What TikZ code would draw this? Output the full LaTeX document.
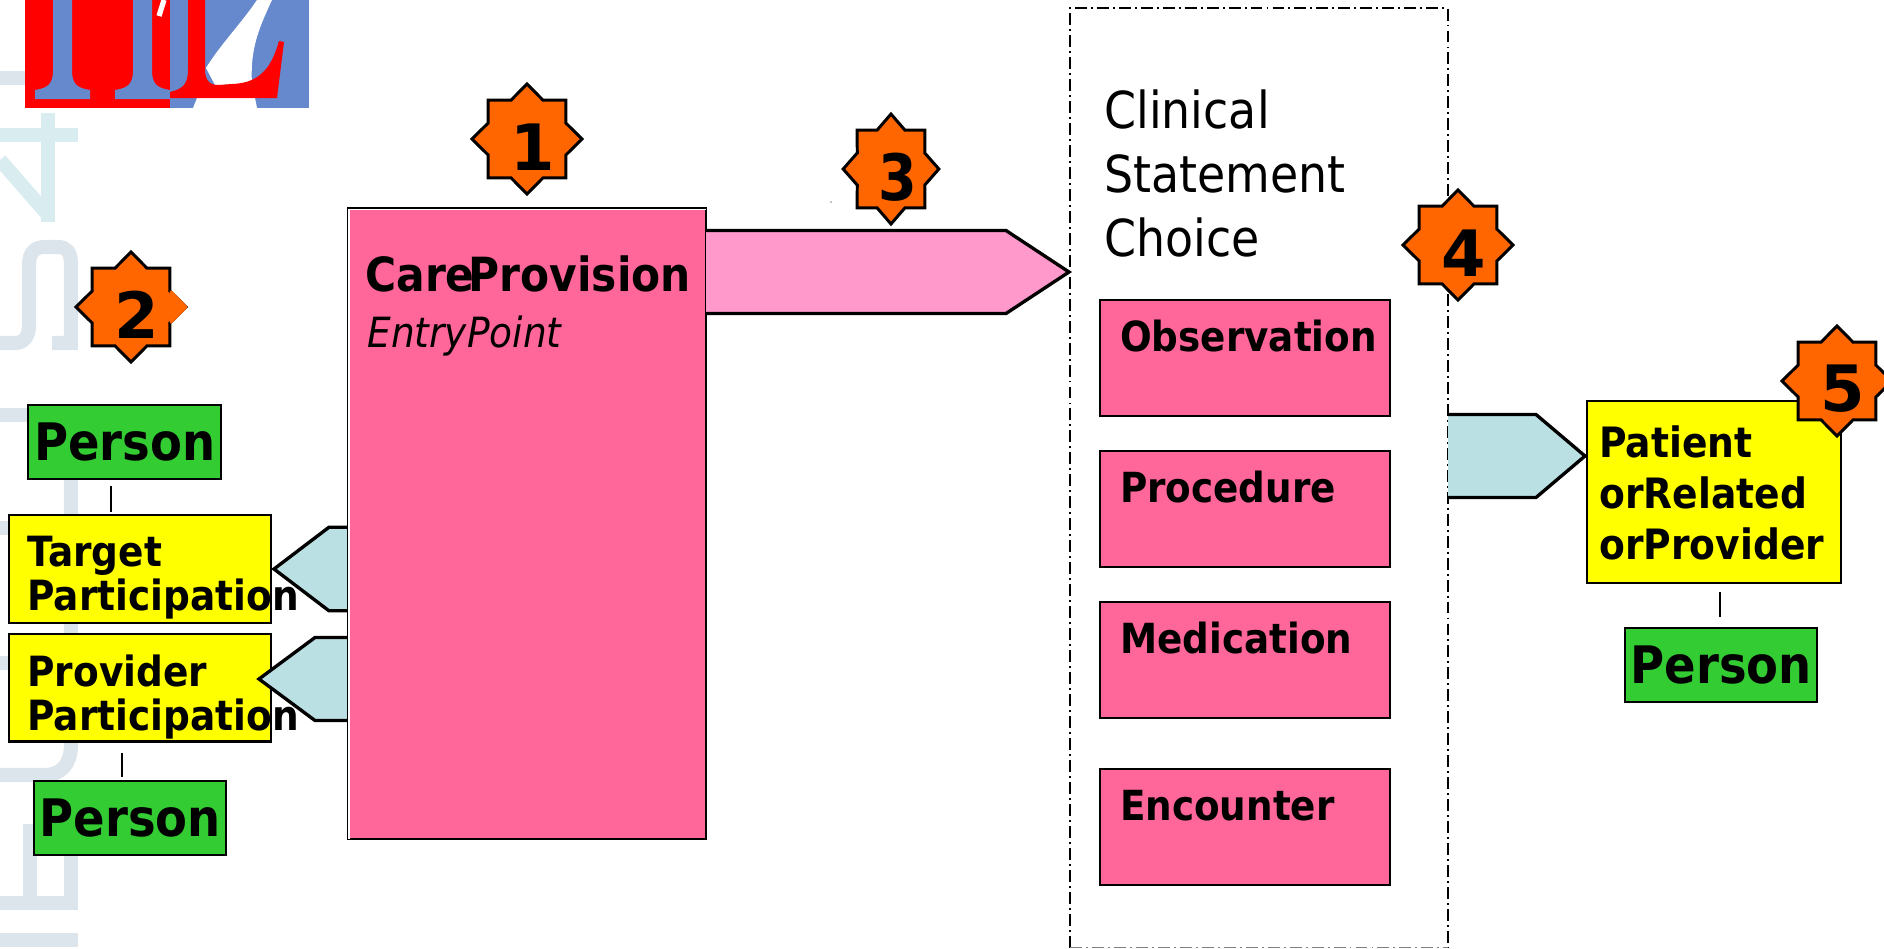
\documentclass[tikz,border=0pt]{standalone}
\usepackage{fontspec}
\setmainfont{DejaVu Sans}[FakeStretch=0.9]
\newfontfamily\digitfont{DejaVu Sans}
\usetikzlibrary{shapes.geometric, positioning, calc}
\definecolor{hotpink}{HTML}{FF6699}
\definecolor{softpink}{HTML}{FF99CC}
\definecolor{paleteal}{HTML}{BBE0E3}
\definecolor{grassgreen}{HTML}{33CC33}
\definecolor{pureyellow}{HTML}{FFFF00}
\definecolor{badgeorange}{HTML}{FF6600}
\definecolor{logoblue}{HTML}{6688CC}
\definecolor{markA}{HTML}{D9EDF0}
\definecolor{markB}{HTML}{DCE5EC}
\tikzset{
	plainbox/.style={rectangle, draw, line width=1.3pt, inner sep=0pt, anchor=north west},
	personbox/.style={plainbox, fill=grassgreen, font=\fontsize{29.4}{31}\bfseries\selectfont},
	yellowbox/.style={plainbox, fill=pureyellow},
	stmtbox/.style={plainbox, fill=hotpink, minimum width=5.8cm, minimum height=2.32cm, text width=5cm,
		inner xsep=0.4cm, text height=1.02cm, text depth=1.3cm, align=left, font=\fontsize{23.6}{26}\bfseries\selectfont},
	badge/.style={star, star points=8, star point ratio=1.31, minimum size=2.2cm, inner sep=0pt, draw, line width=1.7pt, fill=badgeorange},
	digit/.style={font=\fontsize{36.4}{38}\digitfont\bfseries\selectfont, inner sep=0pt},
	caption/.style={anchor=base west, inner sep=0pt, align=left},
	tie/.style={line width=1.2pt},
	tagline/.style={line width=1.9pt, line join=miter},
	choiceline/.style={line width=1.1pt, dash pattern=on 6.8pt off 2.3pt on 1.1pt off 2.3pt},
}
% fill, base point, tip, shoulder offset, half height
\newcommand{\pointer}[5]{
	\fill[#1] ($(#2)+(0,-#5)$) -- ($(#3)+(#4,-#5)$) -- (#3) -- ($(#3)+(#4,#5)$) -- ($(#2)+(0,#5)$) -- cycle;
	\draw[tagline] ($(#2)+(0,-#5)$) -- ($(#3)+(#4,-#5)$) -- (#3) -- ($(#3)+(#4,#5)$) -- ($(#2)+(0,#5)$);
}
\begin{document}
\begin{tikzpicture}[x=0.02cm, y=-0.02cm]
	\useasboundingbox (0,0) rectangle (1884,948);
	
	% --- Watermark ---
	\begin{scope}[line width=8pt, markB]
		\draw (0,78) -- (25,78);
		\draw[markA] (0,135) -- (78,135);
		\draw[markA] (48,113) -- (48,222);
		\draw[markA] (0,160) -- (48,215);
		\draw (0,343) -- (15,343) .. controls (25,343) and (29,335) .. (29,325) -- (29,265) .. controls (29,252) and (35,247) .. (45,247) -- (58,247) .. controls (67,247) and (71,252) .. (71,265) -- (71,343) -- (52,343);
		\draw (0,415) -- (78,415);
		\draw (71,415) -- (71,745) .. controls (71,765) and (60,775) .. (45,775) -- (0,775);
		\draw (0,528) -- (25,528);
		\draw (0,663) -- (25,663);
		\draw (30,824) -- (30,903);
		\draw (0,903) -- (78,903);
		\draw (71,824) -- (71,903);
		\draw (0,940) -- (78,940);
	\end{scope}
	
	% --- Logo ---
	\fill[red] (25,0) rectangle (170,108);
	\fill[logoblue] (170,0) rectangle (309,108);
	\foreach \s in {0,80} {
		\fill[logoblue, xshift=\s*0.02cm] (53,0) -- (53,70) .. controls (53,84) and (48,88) .. (35,90) -- (35,99) -- (90,99) -- (90,90) .. controls (77,88) and (72,84) .. (72,70) -- (72,0) -- cycle;
	}
	\fill[white] (206,68) .. controls (220,45) and (240,25) .. (257,0) -- (272,0) .. controls (258,30) and (250,50) .. (252,84) -- (215,85) -- cycle;
	\fill[white] (193,108) -- (197,98) -- (255,98) -- (257,108) -- cycle;
	\fill[red] (188,0) -- (188,70) .. controls (188,85) and (182,89) .. (170,92) -- (170,98) -- (277,98) -- (284,42) -- (279,41) .. controls (272,65) and (262,83) .. (232,84) -- (218,85) .. controls (208,85) and (205,78) .. (205,70) -- (205,0) -- cycle;
	\draw[white, line width=3pt] (164,0) -- (159,16);
	\fill (831,202) circle (0.7);
	
	% --- Left Participations ---
	\node[yellowbox, minimum width=5.24cm, minimum height=2.16cm] (targetBox) at (8,514) {};
	\node[yellowbox, minimum width=5.24cm, minimum height=2.15cm] (providerBox) at (8,633) {};
	\coordinate (targetTip) at (274,569);
	\coordinate (providerTip) at (259,679);
	\pointer{paleteal}{349,569}{targetTip}{55}{41.8}
	\pointer{paleteal}{349,679}{providerTip}{56}{41.5}
	
	% --- Entry Point ---
	\node[plainbox, fill=hotpink, minimum width=7.17cm, minimum height=12.62cm] (entry) at (346.5,207) {};
	\draw[white, line width=0.9pt] ($(entry.south west)+(2.5,-1)$) -- ($(entry.north west)+(2.5,2.5)$) -- ($(entry.north east)+(-1,2.5)$);
	\node[caption, font=\fontsize{26.8}{28}\bfseries\selectfont] (entryName) at (365,291) {Care\kern-.13em Provision};
	\node[caption, font=\fontsize{23.7}{26}\itshape\selectfont] (entryKind) at (367,347) {EntryPoint};
	
	% --- Choice ---
	\node[rectangle, minimum width=7.54cm, minimum height=18.78cm, inner sep=0pt, anchor=north west] (choice) at (1070,8) {};
	\draw[choiceline] (choice.south west) -- (choice.north west) -- (choice.north east) -- (choice.south east);
	\draw[choiceline, gray] (choice.south west) -- (choice.south east);
	\node[caption, font=\fontsize{29}{36.4}\selectfont] (choiceName) at (1104,256) {Clinical\\Statement\\Choice};
	\node[stmtbox] (observation) at (1099,299) {Observation};
	\node[stmtbox] (procedure) at (1099,450) {Procedure};
	\node[stmtbox] (medication) at (1099,601) {Medication};
	\node[stmtbox] (encounter) at (1099,768) {Encounter};
	\coordinate (choiceTip) at (1069,272);
	\pointer{softpink}{706,272}{choiceTip}{-63}{41.5}
	
	% --- Right Participation ---
	\node[yellowbox, minimum width=5.08cm, minimum height=3.64cm] (patient) at (1586,400) {};
	\node[caption, font=\fontsize{23.8}{29}\bfseries\selectfont] (patientText) at (1599,559) {Patient\\orRelated\\orProvider};
	\coordinate (patientTip) at (1585,456);
	\pointer{paleteal}{1448,456}{patientTip}{-49}{41.5}
	
	% --- Persons ---
	\node[personbox, minimum width=3.86cm, minimum height=1.49cm] (personA) at (27,403.5) {Person};
	\node[personbox, minimum width=3.84cm, minimum height=1.48cm] (personB) at (33,780) {Person};
	\node[personbox, minimum width=3.84cm, minimum height=1.48cm] (personC) at (1624,627) {Person};
	\coordinate (tieA) at (111,490);
	\coordinate (tieB) at (122,760);
	\coordinate (tieC) at (1720,604);
	\draw[tie, shorten <=0.12cm, shorten >=0.05cm] (personA.south -| tieA) -- (targetBox.north -| tieA);
	\draw[tie, shorten <=0.2cm, shorten >=0.06cm] (providerBox.south -| tieB) -- (personB.north -| tieB);
	\draw[tie, shorten <=0.16cm, shorten >=0.2cm] (patient.south -| tieC) -- (personC.north -| tieC);
	
	% --- Participation Texts ---
	\node[caption, font=\fontsize{23.7}{25}\bfseries\selectfont] (targetText) at (27,610) {Target\\Participation};
	\node[caption, font=\fontsize{23.7}{25}\bfseries\selectfont] (providerText) at (27,730) {Provider\\Participation};
	
	% --- Badges ---
	\node[badge] (badgeOne) at (527,139) {};
	\node[badge] (badgeTwo) at (131,307) {};
	\node[badge, xscale=0.87, transform shape] (badgeThree) at (891,169) {};
	\node[badge] (badgeFour) at (1458,245) {};
	\node[badge] (badgeFive) at (1837,381) {};
	\draw[badgeorange, fill=badgeorange, line width=1.7pt, line join=round] ($(badgeTwo)+(40,-15)$) -- ($(badgeTwo)+(55,0)$) -- ($(badgeTwo)+(40,15)$) -- cycle;
	\node[digit] (digitOne) at ($(badgeOne)+(6,8)$) {1};
	\node[digit] (digitTwo) at ($(badgeTwo)+(6,8)$) {2};
	\node[digit] (digitThree) at ($(badgeThree)+(7,8)$) {\scalebox{0.87}[1]{3}};
	\node[digit] (digitFour) at ($(badgeFour)+(6,8)$) {4};
	\node[digit] (digitFive) at ($(badgeFive)+(6,8)$) {5};
	
\end{tikzpicture}
\end{document}
